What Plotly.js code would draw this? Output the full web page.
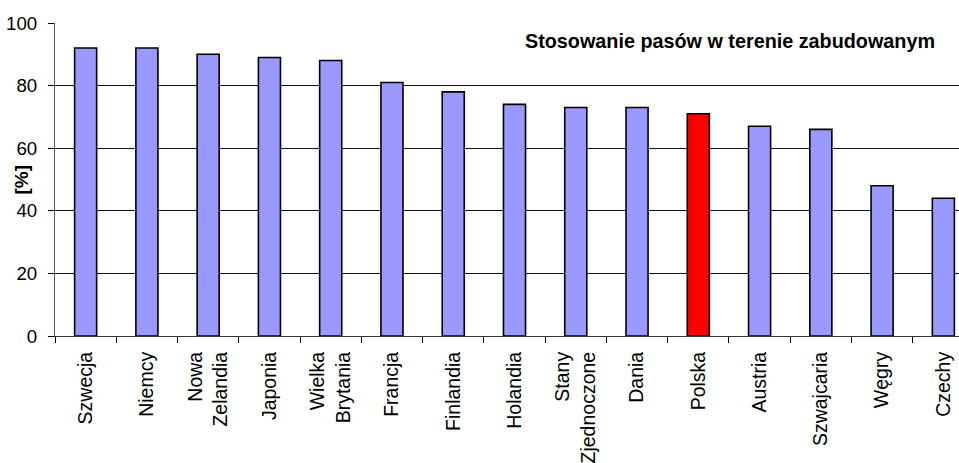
<!DOCTYPE html>
<html>
<head>
<meta charset="utf-8">
<script src="https://cdn.plot.ly/plotly-3.0.1.min.js"></script>
<style>
  html, body { margin: 0; padding: 0; background: #fff; overflow: hidden; width: 959px; height: 463px; }
  #chart { width: 980px; height: 463px; }
</style>
</head>
<body>
<div id="chart"></div>
<script>
// Seat-belt use in built-up areas, by country [%]
const countries = ["Szwecja", "Niemcy", "Nowa Zelandia", "Japonia", "Wielka Brytania",
  "Francja", "Finlandia", "Holandia", "Stany Zjednoczone", "Dania", "Polska",
  "Austria", "Szwajcaria", "Węgry", "Czechy"];
const tickLabels = ["Szwecja", "Niemcy", "Nowa<br>Zelandia", "Japonia", "Wielka<br>Brytania",
  "Francja", "Finlandia", "Holandia", "Stany<br>Zjednoczone", "Dania", "Polska",
  "Austria", "Szwajcaria", "Węgry", "Czechy"];
const usage = [92, 92, 90, 89, 88, 81, 78, 74, 73, 73, 71, 67, 66, 48, 44];
const highlighted = "Polska";

const barColors = countries.map(c => c === highlighted ? "#FF0000" : "#9999FF");
const FONT = "Liberation Sans, Arial, sans-serif";

const trace = {
  type: "bar",
  x: countries,
  y: usage,
  width: 0.36,
  marker: { color: barColors, line: { color: "#000", width: 1.6 } },
  hoverinfo: "x+y"
};

const layout = {
  width: 980,
  height: 463,
  margin: { l: 55, r: 6, t: 23, b: 127, pad: 0 },
  paper_bgcolor: "#fff",
  plot_bgcolor: "#fff",
  font: { family: FONT, size: 19, color: "#000" },
  showlegend: false,
  title: {
    text: "<b>Stosowanie pasów w terenie zabudowanym</b>",
    font: { family: FONT, size: 19.8, color: "#000" },
    xref: "container", x: 935 / 980, xanchor: "right",
    yref: "container", y: 1 - 41 / 463, yanchor: "middle"
  },
  xaxis: {
    type: "category",
    tickmode: "array",
    tickvals: countries,
    ticktext: tickLabels,
    tickangle: -90,
    tickson: "boundaries",
    ticks: "outside",
    ticklen: 6,
    tickcolor: "#000",
    tickwidth: 1,
    ticklabelstandoff: 7,
    showline: true,
    linecolor: "#333",
    linewidth: 1,
    showgrid: false,
    zeroline: false,
    tickfont: { family: FONT, size: 19.5, color: "#000" },
    fixedrange: true
  },
  yaxis: {
    range: [0, 100],
    tickvals: [0, 20, 40, 60, 80, 100],
    ticks: "outside",
    ticklen: 6,
    tickcolor: "#000",
    ticklabelstandoff: 7,
    showline: true,
    linecolor: "#555",
    linewidth: 1,
    showgrid: true,
    gridcolor: "#111",
    gridwidth: 1,
    zeroline: false,
    tickfont: { family: FONT, size: 18.7, color: "#000" },
    fixedrange: true
  },
  annotations: [{
    // y-axis title, tucked between the 40 and 60 tick labels
    text: "<b>[%]</b>",
    textangle: -90,
    font: { family: FONT, size: 19, color: "#000" },
    xref: "paper", x: -34 / 919, xanchor: "center",
    yref: "paper", y: 0.5, yanchor: "middle",
    showarrow: false
  }]
};

Plotly.newPlot("chart", [trace], layout, { displayModeBar: false, staticPlot: true });
</script>
</body>
</html>
